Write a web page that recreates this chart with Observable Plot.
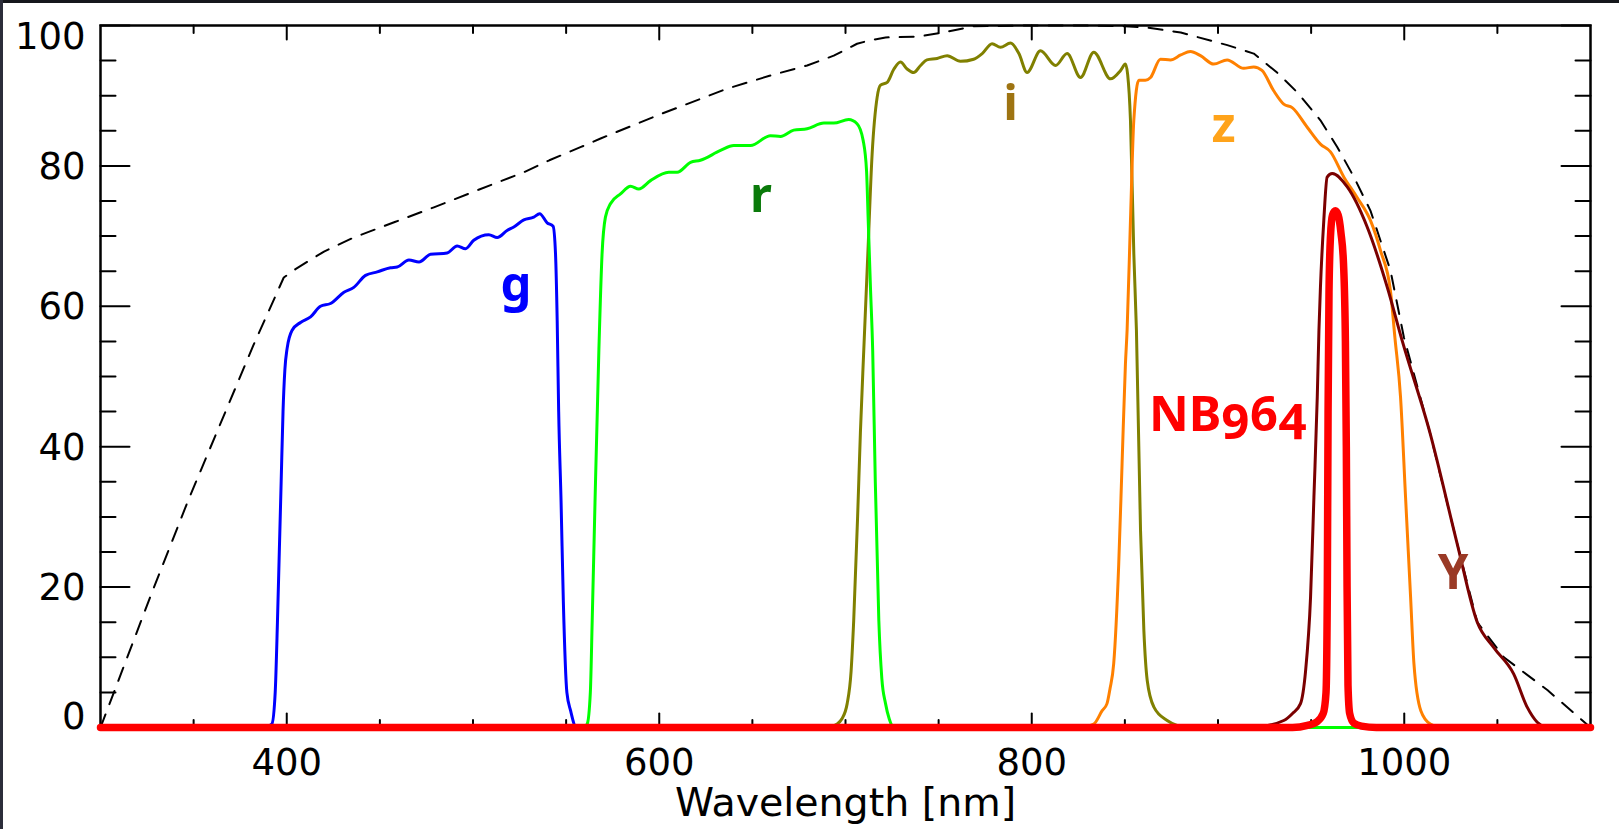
<!DOCTYPE html>
<html>
<head>
<meta charset="utf-8">
<script src="https://cdn.jsdelivr.net/npm/d3@7"></script>
<script src="https://cdn.jsdelivr.net/npm/@observablehq/plot@0.6"></script>
<style>
  html, body { margin: 0; padding: 0; background: #fff; }
  #wrap { position: relative; width: 1619px; height: 829px; overflow: hidden; background: #fff; }
  #wrap svg { position: absolute; left: 0; top: 0; }
  .edgeTop { position: absolute; left: 0; top: 0; width: 1619px; height: 3px; background: #15171c; }
  .edgeLeft { position: absolute; left: 0; top: 0; width: 3px; height: 829px; background: #2b2d3a; }
</style>
</head>
<body>
<div id="wrap"></div>
<script>
// ---- axis ticks ----
const xMajorTicks = [400, 600, 800, 1000];
const xMinorTicks = [350, 450, 500, 550, 650, 700, 750, 850, 900, 950, 1050];
const yMajorTicks = [0, 20, 40, 60, 80, 100];
const yMinorTicks = [5, 10, 15, 25, 30, 35, 45, 50, 55, 65, 70, 75, 85, 90, 95];
const xTitle = "Wavelength [nm]";

// ---- curves: [wavelength nm, throughput %] ----
const qeCurve = [[300,0],[328,19.5],[347,32.3],[382,54.4],[398.4,64.1],[404.7,65.3],[420,67.8],[436,69.8],[458,72],[479,74.1],[503,76.6],[527.3,79.1],[541,80.8],[558,82.7],[568.5,83.9],[600,87.3],[636.4,91.0],[660,92.9],[679.4,94.3],[693.7,95.7],[706.2,97.4],[713.4,97.9],[721.5,98.3],[738.5,98.4],[752.6,99.0],[768.7,99.9],[800,100],[826,100],[850,99.9],[862,99.7],[880,99.0],[905,97.2],[919.2,96.0],[931.7,93.3],[942.5,90.5],[955,86.5],[964,82.7],[973,78.4],[981.9,73.6],[992.6,65.1],[999.8,55.6],[1014,41.8],[1028.4,26.2],[1039.2,15.0],[1053.5,10],[1077,5.3],[1100,0]];

const gBand = [[388,0],[392,0.5],[393.8,5],[395,15],[396,25],[397,35],[398,45],[399,51],[400.2,54],[402.9,56.6],[407.4,57.7],[412.8,58.5],[418.1,60.0],[423.5,60.4],[430.7,62.0],[436,62.7],[442.3,64.4],[448.6,64.9],[455.7,65.5],[459.3,65.6],[465.6,66.6],[471,66.3],[477.2,67.4],[486.1,67.6],[491.5,68.6],[496,68.2],[500.4,69.4],[508.5,70.2],[513,69.8],[518.3,70.8],[521.9,71.3],[527.3,72.3],[532.6,72.7],[535.8,73.2],[539.8,71.9],[543,71.4],[544.3,67.5],[545.2,58],[546,45],[547.3,32],[548.5,18],[550.4,5],[552.4,2.4],[555.5,0],[560,0]];

const rBand = [[300,0],[559,0],[561.3,0.5],[563,5],[564,15.2],[565.5,32],[567.6,53.9],[569.3,67.5],[571.1,72.7],[573.8,74.6],[579.2,76.0],[584.6,77.1],[589,76.7],[595.3,77.9],[605.1,79.1],[609.6,79.1],[616.8,80.5],[622.1,80.8],[632.9,82.2],[640,82.9],[649,82.9],[659.7,84.3],[665.1,84.2],[672.2,85.1],[679.4,85.3],[688.4,86.1],[693.7,86.1],[701.7,86.6],[706.2,86.0],[709.5,83.6],[711.3,79.3],[712.2,72.2],[713.4,62.7],[714.6,53.7],[716,35],[717.9,15.2],[719.5,7],[721.5,3.4],[723.5,1.2],[726,0],[1100,0]];

const iBand = [[690,0],[695.5,0.5],[698,1.2],[700.9,3.4],[703,8],[704.4,15.2],[706.5,30],[708,42],[709.8,53.7],[712,67.5],[714.3,81.7],[717,89.8],[718.8,91.5],[722.4,91.9],[726,93.8],[729.5,94.8],[733.1,93.8],[736.6,93.3],[740.3,94.3],[743.7,95.1],[749.2,95.3],[754.6,95.7],[761.7,94.9],[768.8,95.2],[773.4,96.0],[778.7,97.4],[783.2,96.9],[788.6,97.5],[793.1,96.0],[797.5,93.3],[804.7,96.4],[812.8,94.3],[819,96.0],[826.2,92.6],[833.3,96.2],[842.3,92.4],[847.7,93.6],[850.3,94.5],[851.5,93],[853,86.5],[854.8,67.5],[856.2,56.6],[858.4,28.1],[860.2,13.8],[862,6.7],[865.6,2.9],[872.7,1],[878,0.3],[885,0]];

const zBand = [[826,0],[833.3,0.5],[837.8,2.4],[840.4,3.4],[842,5.5],[844,9.1],[846.7,23.3],[848.5,37.6],[850.3,51.8],[851.2,56.6],[853,72.2],[854.8,86.5],[857.5,92.2],[861,92.2],[863.8,92.6],[869.1,95.2],[874.5,95.1],[880,95.8],[885.2,96.3],[890.6,95.7],[897.7,94.5],[904.9,95.1],[913.8,93.9],[919.2,94.1],[923.6,93.6],[929.9,90.7],[935.3,88.8],[939.8,88.3],[947.9,85.5],[955,83.1],[960.4,82.0],[967.6,78.4],[974.7,75.5],[981.9,72.2],[987.3,67.9],[992.6,62.2],[995,55.5],[998,47.1],[1000.7,32.8],[1003.4,18.6],[1005.2,9.1],[1008.9,2.4],[1014,0.5],[1020,0]];

const yBand = [[920,0],[935.3,1],[940,2],[944.3,3.4],[947,8],[949.7,18.6],[951.5,32.8],[953.3,47.1],[954.2,56.6],[955,62.7],[956.8,72.2],[958.6,78.4],[961.3,78.9],[969.4,77.0],[980.1,71.3],[990.9,62.7],[999,55],[1014,41.8],[1028.4,26.2],[1039.2,15.0],[1048,11.4],[1058.8,7.6],[1066,2.9],[1071.4,0.75],[1076,0]];

const nb964Band = [[300,0],[940,0],[948,0.3],[953,0.8],[956.5,2],[958,5],[958.7,20],[959.1,45],[959.6,62],[960.4,70],[961.5,73],[963,73.6],[964.5,73],[966,70.5],[967.4,66],[968.4,55],[968.9,40],[969.3,20],[969.8,6],[970.7,2],[973,0.6],[977,0.2],[985,0],[1100,0]];

// ---- band labels ----
const bandNames   = ["g", "r", "i", "z", "Y"];
const labelWave   = [523.1, 654.6, 788.6, 903.0, 1026.2];
const labelLevel  = [60.8, 73.4, 86.5, 83.4, 19.8];
const labelColors = ["#0000ff", "#0a7a0a", "#9e7412", "#ffa31a", "#9a3a26"];
const nbName = ["NB964"];
const nbWave = [905.4];
const nbLevel = [42.3];

const lineColors = {g: "#0000ff", r: "#00ff00", i: "#808000", z: "#ff8000", Y: "#7a0000", NB: "#ff0000"};

const tickFont = "DejaVu Sans, Verdana, sans-serif";
const labelFont = "Noto Sans, Open Sans, sans-serif";

const tickShape = {draw(context, l) { context.moveTo(0, 0); context.lineTo(0, -l); }};

function band(rows, color, w) {
  return Plot.line(rows, {x: d => d[0], y: d => d[1], stroke: color, strokeWidth: w, curve: "monotone-x", strokeLinejoin: "round"});
}
function ticks(values, anchor, len) {
  const horiz = anchor === "top" || anchor === "bottom";
  const rot = {bottom: 0, top: 180, left: 90, right: -90}[anchor];
  return Plot.vector(values, {
    ...(horiz ? {x: d => d} : {y: d => d}),
    frameAnchor: anchor, length: len, rotate: rot, anchor: "start",
    shape: tickShape, stroke: "black", strokeWidth: 2
  });
}

const chart = Plot.plot({
  width: 1619,
  height: 829,
  marginLeft: 100,
  marginRight: 29,
  marginTop: 25,
  marginBottom: 102,
  x: {domain: [300, 1100], axis: null},
  y: {domain: [0, 100], axis: null},
  color: {type: "identity"},
  style: {background: "white", overflow: "visible"},
  marks: [
    Plot.frame({stroke: "black", strokeWidth: 2.5}),
    ticks(xMajorTicks, "bottom", 14),
    ticks(xMinorTicks, "bottom", 7.5),
    ticks(xMajorTicks, "top", 14),
    ticks(xMinorTicks, "top", 7.5),
    ticks(yMajorTicks, "left", 29),
    ticks(yMinorTicks, "left", 15),
    ticks(yMajorTicks, "right", 29),
    ticks(yMinorTicks, "right", 15),
    Plot.line(qeCurve, {x: d => d[0], y: d => d[1], stroke: "black", strokeWidth: 2, strokeDasharray: "14,11"}),
    band(gBand, lineColors.g, 3),
    band(iBand, lineColors.i, 3),
    band(zBand, lineColors.z, 3),
    band(rBand, lineColors.r, 3),
    band(yBand, lineColors.Y, 3),
    band(nb964Band, lineColors.NB, 7.5),
    Plot.text(xMajorTicks, {x: d => d, text: d => String(d), frameAnchor: "bottom", dy: 47, lineAnchor: "bottom", textAnchor: "middle", fontSize: 37, fontFamily: tickFont, fill: "black"}),
    Plot.text(yMajorTicks.filter(v => v > 0 && v < 100), {y: d => d, text: d => String(d), frameAnchor: "left", dx: -15, dy: 13, lineAnchor: "bottom", textAnchor: "end", fontSize: 37, fontFamily: tickFont, fill: "black"}),
    Plot.text(yMajorTicks.filter(v => v === 100), {y: d => d, text: d => String(d), frameAnchor: "left", dx: -15, dy: 23, lineAnchor: "bottom", textAnchor: "end", fontSize: 37, fontFamily: tickFont, fill: "black"}),
    Plot.text(yMajorTicks.filter(v => v === 0), {y: d => d, text: d => String(d), frameAnchor: "left", dx: -15, dy: 1, lineAnchor: "bottom", textAnchor: "end", fontSize: 37, fontFamily: tickFont, fill: "black"}),
    Plot.text([xTitle], {text: d => d, frameAnchor: "bottom", dy: 88, lineAnchor: "bottom", textAnchor: "middle", fontSize: 39.5, fontFamily: tickFont, fill: "black"}),
    Plot.text(bandNames, {x: (d, i) => labelWave[i], y: (d, i) => labelLevel[i], text: d => d, fill: (d, i) => labelColors[i], lineAnchor: "bottom", textAnchor: "middle", fontSize: 49, fontWeight: "bold", fontFamily: labelFont}),
    Plot.text(nbName, {x: (d, i) => nbWave[i], y: (d, i) => nbLevel[i], text: d => d, fill: "#ff0000", lineAnchor: "bottom", textAnchor: "middle", fontSize: 49, fontWeight: "bold", fontFamily: labelFont})
  ]
});

chart.querySelectorAll("text").forEach(t => {
  if (t.textContent === "NB964") t.style.fontVariantNumeric = "oldstyle-nums";
});

const wrapEl = document.getElementById("wrap");
wrapEl.appendChild(chart);
const edgeTopEl = document.createElement("div"); edgeTopEl.className = "edgeTop"; wrapEl.appendChild(edgeTopEl);
const edgeLeftEl = document.createElement("div"); edgeLeftEl.className = "edgeLeft"; wrapEl.appendChild(edgeLeftEl);
</script>
</body>
</html>
